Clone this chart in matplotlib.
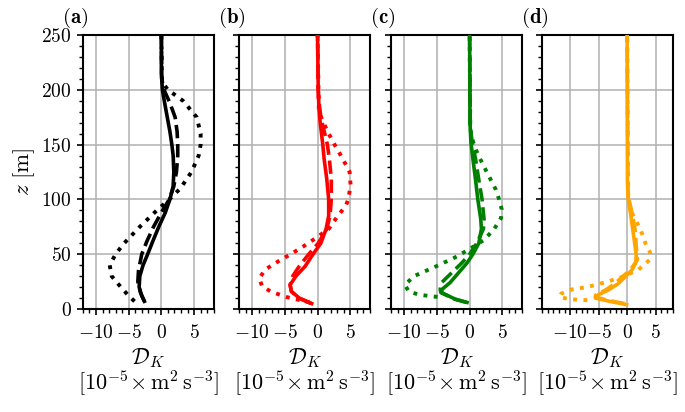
"""
Perfiles verticales de D_K para cuatro casos (a)-(d).
Tres curvas por panel: continua, discontinua y punteada.
"""

import matplotlib
matplotlib.use("Agg")
import matplotlib.pyplot as plt
from matplotlib.ticker import MultipleLocator

plt.rcParams["mathtext.fontset"] = "cm"
plt.rcParams["font.family"] = "serif"
plt.rcParams["font.serif"] = ["cmr10", "DejaVu Serif"]
plt.rcParams["axes.formatter.use_mathtext"] = True
plt.rcParams["axes.unicode_minus"] = True

# ---------------------------------------------------------------------------
# Datos
# ---------------------------------------------------------------------------

panel_labels = ["(a)", "(b)", "(c)", "(d)"]
panel_colors = ["black", "red", "green", "orange"]
panel_xlims = [(-12, 8), (-12, 8), (-12, 8), (-15, 8)]

# Panel (a)
z_a_solid = [7, 12, 20, 30, 40, 50, 62, 75, 88, 100, 112, 125, 140, 150, 162, 175, 188, 200, 215, 250]
d_a_solid = [-2.6, -3.0, -3.4, -3.3, -2.8, -2.1, -1.3, -0.4, 0.6, 1.3, 1.8, 1.9, 1.8, 1.6, 1.3, 0.9, 0.5, 0.15, 0.0, 0.0]
z_a_dash = [7, 15, 25, 35, 50, 62, 75, 88, 100, 112, 125, 140, 150, 162, 175, 188, 200, 210, 250]
d_a_dash = [-2.6, -3.2, -3.6, -3.5, -3.0, -2.2, -1.2, 0.0, 1.2, 1.9, 2.3, 2.5, 2.5, 2.4, 2.1, 1.3, 0.4, 0.05, 0.0]
z_a_dot = [7, 12, 20, 30, 40, 50, 60, 75, 90, 100, 110, 125, 140, 150, 160, 175, 190, 200, 207, 250]
d_a_dot = [-4.1, -5.0, -6.2, -7.6, -7.9, -7.0, -5.7, -3.3, -0.7, 1.2, 2.9, 4.6, 5.7, 6.0, 6.0, 5.4, 3.3, 1.0, 0.1, 0.0]

# Panel (b)
z_b_solid = [5, 10, 16, 22, 30, 39, 50, 60, 73, 85, 100, 119, 137, 150, 170, 185, 200, 250]
d_b_solid = [-0.9, -2.8, -4.0, -4.2, -3.3, -1.9, -0.7, 0.5, 1.3, 1.7, 1.7, 1.4, 1.0, 0.8, 0.4, 0.2, 0.1, 0.0]
z_b_dash = [5, 10, 16, 22, 30, 39, 50, 60, 73, 85, 100, 119, 137, 150, 165, 175, 190, 200, 250]
d_b_dash = [-1.0, -2.9, -4.0, -4.2, -3.8, -2.8, -1.35, 0.1, 1.4, 1.9, 2.1, 2.1, 1.8, 1.5, 0.9, 0.5, 0.2, 0.1, 0.0]
z_b_dot = [6, 11, 16, 21, 28, 36, 45, 50, 57, 63, 73, 85, 94, 100, 113, 125, 137, 150, 160, 170, 180, 250]
d_b_dot = [-1.2, -4.8, -7.2, -8.5, -8.9, -8.0, -5.6, -4.1, -2.2, -0.7, 1.7, 3.1, 4.3, 4.7, 5.05, 4.9, 3.85, 2.6, 1.7, 0.9, 0.2, 0.0]

# Panel (c)
z_c_solid = [6, 9, 15, 18, 24, 33, 42, 50, 60, 73, 82, 100, 118, 137, 152, 170, 250]
d_c_solid = [-0.4, -2.2, -4.3, -4.2, -3.0, -1.7, -0.4, 0.5, 1.4, 1.8, 1.7, 1.25, 0.9, 0.5, 0.2, 0.05, 0.0]
z_c_dash = [6, 9, 15, 18, 24, 33, 42, 50, 60, 73, 82, 100, 118, 137, 152, 165, 250]
d_c_dash = [-0.5, -2.3, -4.4, -4.5, -4.3, -2.75, -1.2, 0.0, 1.1, 2.1, 2.2, 1.9, 1.4, 0.9, 0.4, 0.1, 0.0]
z_c_dot = [11, 13, 16, 22, 30, 39, 47, 54, 63, 73, 83, 91, 100, 109, 124, 137, 146, 155, 165, 250]
d_c_dot = [-4.9, -7.7, -9.3, -9.9, -8.5, -5.1, -2.25, -0.2, 2.2, 3.75, 4.8, 4.9, 4.5, 4.0, 2.7, 1.6, 0.9, 0.4, 0.1, 0.0]

# Panel (d)
z_d_solid = [4, 7, 10, 13, 17, 23, 30, 36, 42, 49, 57, 72, 87, 100, 115, 250]
d_d_solid = [-0.1, -3.1, -5.6, -5.1, -3.4, -1.6, -0.2, 0.9, 1.5, 1.6, 1.4, 1.0, 0.6, 0.2, 0.05, 0.0]
z_d_dash = [5, 8, 11, 13, 17, 23, 30, 36, 45, 57, 72, 87, 97, 105, 250]
d_d_dash = [-0.5, -3.5, -5.6, -5.5, -3.9, -2.2, -0.7, 0.6, 1.8, 1.6, 1.4, 0.9, 0.45, 0.15, 0.0]
z_d_dot = [8, 9, 11, 14, 18, 20, 25, 30, 36, 45, 52, 60, 69, 78, 87, 94, 100, 250]
d_d_dot = [-7.0, -10.2, -11.9, -11.6, -9.6, -7.0, -3.4, -0.5, 2.0, 4.0, 4.0, 3.2, 2.6, 1.8, 0.9, 0.45, 0.2, 0.0]

paneles = [
    ((z_a_solid, d_a_solid), (z_a_dash, d_a_dash), (z_a_dot, d_a_dot)),
    ((z_b_solid, d_b_solid), (z_b_dash, d_b_dash), (z_b_dot, d_b_dot)),
    ((z_c_solid, d_c_solid), (z_c_dash, d_c_dash), (z_c_dot, d_c_dot)),
    ((z_d_solid, d_d_solid), (z_d_dash, d_d_dash), (z_d_dot, d_d_dot)),
]

# ---------------------------------------------------------------------------
# Figura
# ---------------------------------------------------------------------------

fig = plt.figure(figsize=(6.85, 4.12), dpi=100)

lefts = [0.121, 0.349, 0.571, 0.791]
width = 0.191
bottom = 0.25
height = 0.665

for i, (curvas, left) in enumerate(zip(paneles, lefts)):
    ax = fig.add_axes([left, bottom, width, height])
    color = panel_colors[i]
    (zs, ds), (zd, dd), (zp, dp) = curvas

    ax.plot(ds, zs, "-", color=color, lw=2.6, zorder=3)
    ax.plot(dd, zd, "--", color=color, lw=2.6, zorder=3)
    ax.plot(dp, zp, ":", color=color, lw=2.8, zorder=3)

    ax.set_xlim(*panel_xlims[i])
    ax.set_ylim(0, 250)
    ax.xaxis.set_minor_locator(MultipleLocator(1))
    ax.yaxis.set_major_locator(MultipleLocator(50))
    ax.yaxis.set_minor_locator(MultipleLocator(10))
    ax.set_xticks([-10, -5, 0, 5])

    ax.grid(True, which="major", color="#b0b0b0", lw=1.1, zorder=0)
    ax.set_axisbelow(True)
    for sp in ax.spines.values():
        sp.set_linewidth(1.5)
    ax.tick_params(which="major", length=4.5, width=1.2, labelsize=14)
    ax.tick_params(axis="x", which="major", pad=6)
    ax.tick_params(which="minor", length=2.8, width=1.0)

    if i == 0:
        ax.set_ylabel(r"$z\ [\mathrm{m}]$", fontsize=16.5, labelpad=3)
    else:
        ax.tick_params(labelleft=False)

    ax.set_xlabel(r"$\mathcal{D}_K$", fontsize=16, labelpad=3)
    ax.text(0.5, -0.27, r"$[10^{-5}\!\times\mathrm{m}^2\,\mathrm{s}^{-3}]$",
            transform=ax.transAxes, fontsize=16, ha="center", va="center")
    ax.text(-0.16, 1.02, r"$\mathbf{%s}$" % panel_labels[i], transform=ax.transAxes,
            fontsize=15, ha="left", va="bottom")

fig.savefig("out.png", dpi=100)
